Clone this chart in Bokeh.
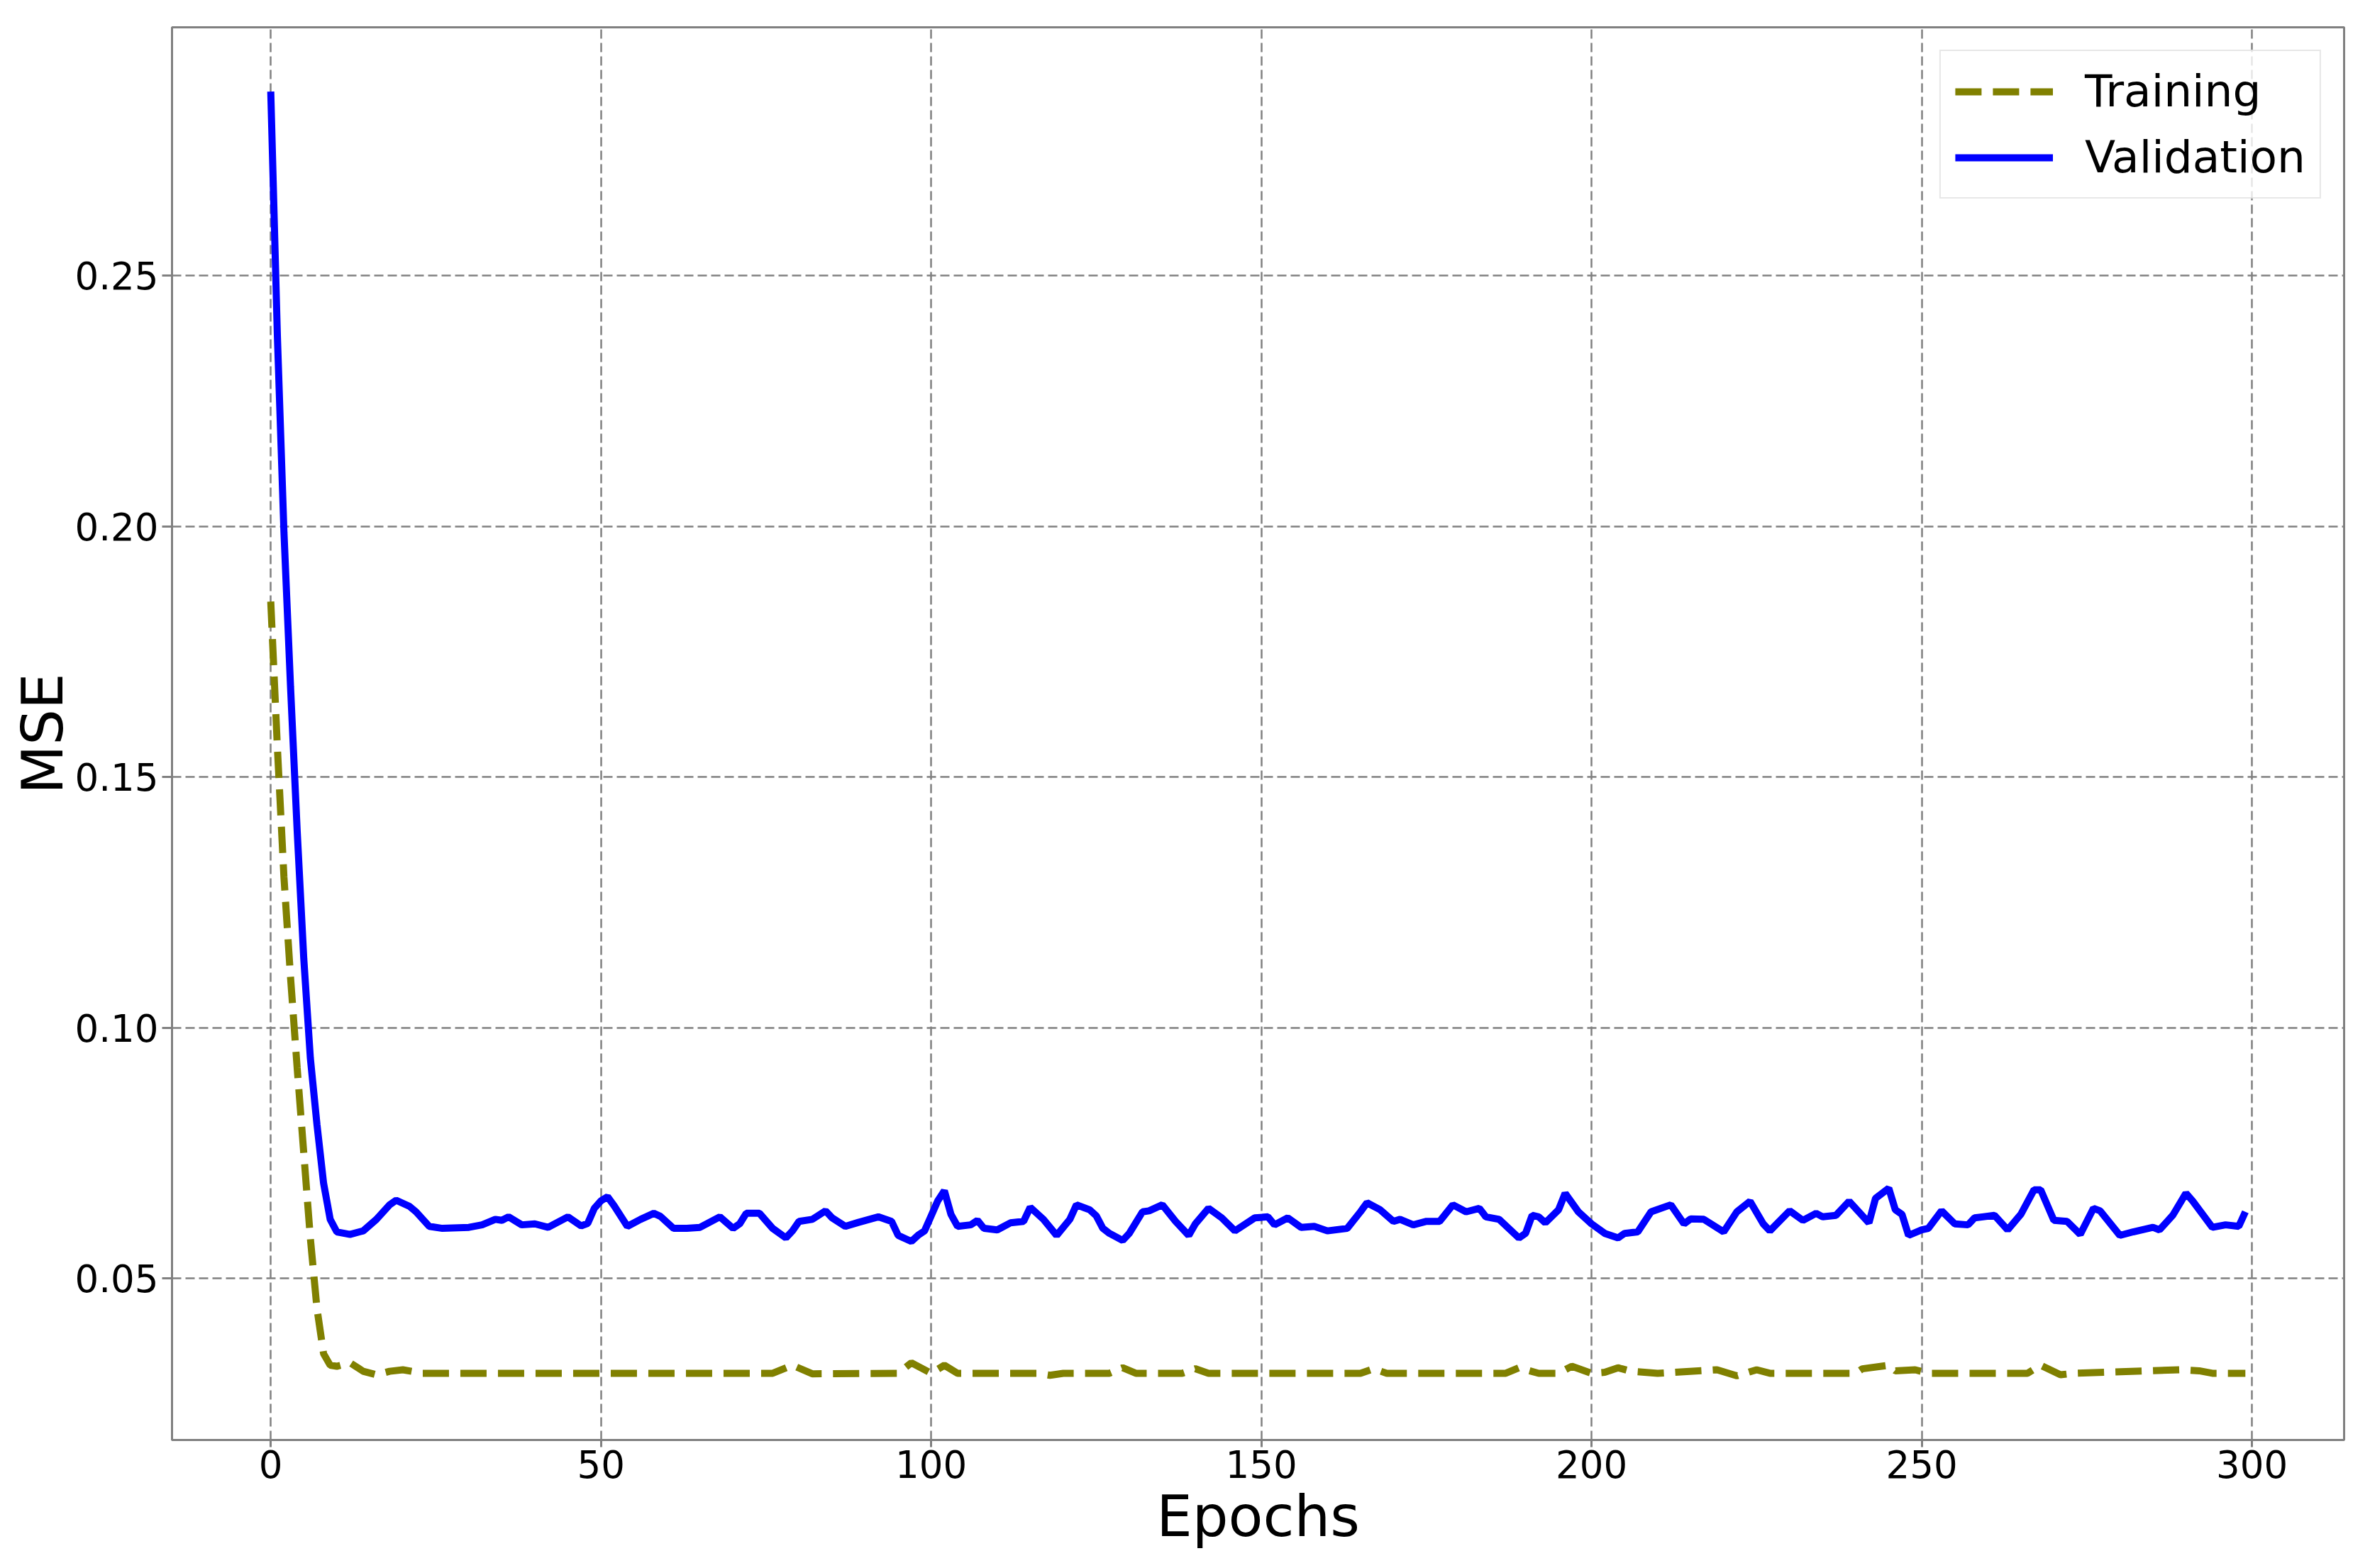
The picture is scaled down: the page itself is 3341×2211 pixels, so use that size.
from bokeh.plotting import figure
from bokeh.models import Range1d, FixedTicker, NumeralTickFormatter, Legend, LegendItem
from bokeh.embed import file_html
from bokeh.resources import INLINE

# ---- data (epoch, MSE) ----
train_epochs = [0, 1, 2, 3, 4, 5, 6, 7, 8, 9, 10, 12, 14, 16, 18, 20, 23, 76, 79, 82,
                95, 97, 100, 102, 104, 116, 118, 120, 127, 129, 131, 138, 140, 142,
                165, 167, 169, 187, 189, 192, 195, 197, 200, 202, 204, 206, 210,
                219, 222, 225, 227, 240, 241, 245, 246, 249, 251, 266, 268, 271, 273,
                289, 292, 294, 299]
train_mse = [0.185, 0.156, 0.130, 0.110, 0.092, 0.075, 0.058, 0.044, 0.035, 0.0327, 0.0325,
             0.0332, 0.0315, 0.0308, 0.0315, 0.0318, 0.0311, 0.0311, 0.0327, 0.0310,
             0.0311, 0.0332, 0.0311, 0.0327, 0.0311, 0.0311, 0.0307, 0.0311, 0.0311, 0.0322,
             0.0311, 0.0311, 0.0320, 0.0311, 0.0311, 0.0320, 0.0311, 0.0311, 0.0322, 0.0311,
             0.0311, 0.0325, 0.0311, 0.0313, 0.0322, 0.0315, 0.0311, 0.0318, 0.0306, 0.0318,
             0.0311, 0.0311, 0.0320, 0.0327, 0.0316, 0.0318, 0.0311, 0.0311, 0.0327, 0.0308,
             0.0311, 0.0318, 0.0316, 0.0311, 0.0311]

val_epochs = [0, 1, 2, 3, 4, 5, 6, 7, 8, 9, 10, 12, 14, 16, 18, 19, 21, 22, 24, 26,
              30, 32, 34, 35, 36, 38, 40, 42, 45, 47, 48, 49, 50, 51, 52, 54, 56, 58, 59,
              61, 63, 65, 68, 70, 71, 72, 74, 76, 78, 79, 80, 82, 84, 85, 87, 89, 92, 94,
              95, 97, 98, 99, 100, 101, 102, 103, 104, 106, 107, 108, 110, 112, 114, 115,
              117, 119, 121, 122, 124, 125, 126, 127, 129, 130, 132, 133, 135, 137, 139,
              140, 142, 144, 146, 149, 151, 152, 154, 156, 158, 160, 163, 165, 166, 168,
              170, 171, 173, 175, 177, 179, 181, 183, 184, 186, 189, 190, 191, 192, 193,
              195, 196, 198, 200, 202, 204, 205, 207, 209, 212, 214, 215, 217, 220, 222,
              224, 226, 227, 230, 232, 234, 235, 237, 239, 242, 243, 245, 246, 247, 248,
              250, 251, 253, 255, 257, 258, 261, 263, 265, 267, 268, 270, 272, 274, 276,
              277, 280, 282, 285, 286, 288, 290, 291, 294, 296, 298, 299]
val_mse = [0.2867, 0.2381, 0.1988, 0.1679, 0.1393, 0.1138, 0.0939, 0.0807, 0.0690, 0.0618,
           0.0593, 0.0588, 0.0595, 0.0618, 0.0647, 0.0656, 0.0644, 0.0633, 0.0604, 0.0600,
           0.0602, 0.0607, 0.0618, 0.0616, 0.0623, 0.0607, 0.0609, 0.0602, 0.0623, 0.0605,
           0.0610, 0.0640, 0.0655, 0.0663, 0.0645, 0.0604, 0.0618, 0.0630, 0.0624,
           0.0600, 0.0600, 0.0602, 0.0623, 0.0600, 0.0609, 0.0630, 0.0630, 0.0600, 0.0581,
           0.0595, 0.0614, 0.0618, 0.0635, 0.0621, 0.0604, 0.0612, 0.0623, 0.0614,
           0.0586, 0.0574, 0.0586, 0.0595, 0.0625, 0.0655, 0.0675, 0.0628, 0.0604, 0.0607,
           0.0616, 0.0600, 0.0597, 0.0611, 0.0614, 0.0642,
           0.0618, 0.0586, 0.0618, 0.0647, 0.0637, 0.0625, 0.0600, 0.0590, 0.0576, 0.0590,
           0.0633, 0.0635, 0.0647, 0.0614, 0.0586,
           0.0609, 0.0640, 0.0621, 0.0595, 0.0621, 0.0623, 0.0607, 0.0621, 0.0602, 0.0604,
           0.0595, 0.0600, 0.0633, 0.0651, 0.0637,
           0.0614, 0.0618, 0.0607, 0.0614, 0.0614, 0.0647, 0.0633, 0.0640, 0.0623, 0.0618,
           0.0581, 0.0590, 0.0626, 0.0623, 0.0611,
           0.0637, 0.0670, 0.0633, 0.0609, 0.0590, 0.0581, 0.0590, 0.0593, 0.0633, 0.0647,
           0.0609, 0.0619, 0.0618, 0.0593, 0.0633,
           0.0654, 0.0609, 0.0595, 0.0635, 0.0616, 0.0630, 0.0623, 0.0626, 0.0654, 0.0611,
           0.0660, 0.0680, 0.0637, 0.0628, 0.0586,
           0.0597, 0.0600, 0.0635, 0.0609, 0.0607, 0.0621, 0.0626, 0.0597, 0.0628, 0.0677,
           0.0677, 0.0616, 0.0614, 0.0588, 0.0640,
           0.0635, 0.0586, 0.0593, 0.0602, 0.0597, 0.0626, 0.0670, 0.0655, 0.0602, 0.0607,
           0.0604, 0.0633]

x_ticks = [0, 50, 100, 150, 200, 250, 300]
y_ticks = [0.05, 0.10, 0.15, 0.20, 0.25]
series_labels = ["Training", "Validation"]
x_label = "Epochs"
y_label = "MSE"

FONT = "DejaVu Sans"
GRAY = "#808080"

p = figure(width=3325, height=2199, output_backend="svg", toolbar_location=None,
           x_range=Range1d(-14.95, 313.95), y_range=Range1d(0.0178, 0.2995),
           min_border_left=242, min_border_right=21, min_border_top=38, min_border_bottom=169)
p.background_fill_color = "white"
p.border_fill_color = "white"
p.outline_line_color = GRAY
p.outline_line_width = 3

r_train = p.line(train_epochs, train_mse, line_color="#808000", line_width=10,
                 line_dash="37 16")
r_val = p.line(val_epochs, val_mse, line_color="#0000ff", line_width=10)

# axes
p.xaxis.ticker = FixedTicker(ticks=x_ticks)
p.yaxis.ticker = FixedTicker(ticks=y_ticks)
p.yaxis.formatter = NumeralTickFormatter(format="0.00")
p.xaxis.axis_label = x_label
p.yaxis.axis_label = y_label
for ax in (p.xaxis, p.yaxis):
    ax.axis_label_text_font = FONT
    ax.axis_label_text_font_size = "80px"
    ax.axis_label_text_font_style = "normal"
    ax.axis_label_text_color = "black"
    ax.major_label_text_font = FONT
    ax.major_label_text_font_size = "53px"
    ax.major_label_text_color = "black"
    ax.axis_line_color = GRAY
    ax.axis_line_width = 3
    ax.major_tick_line_color = GRAY
    ax.major_tick_line_width = 3
    ax.major_tick_in = 0
    ax.minor_tick_line_color = None
p.xaxis.major_tick_out = 10
p.xaxis.major_label_standoff = 4
p.xaxis.axis_label_standoff = 5
p.yaxis.major_tick_out = 14
p.yaxis.major_label_standoff = 5
p.yaxis.axis_label_standoff = -5

# grid
for g in (p.xgrid, p.ygrid):
    g.grid_line_color = GRAY
    g.grid_line_width = 2.5
    g.grid_line_dash = "13 6"
p.xgrid.ticker = FixedTicker(ticks=x_ticks)
p.ygrid.ticker = FixedTicker(ticks=y_ticks)

legend = Legend(items=[LegendItem(label=series_labels[0], renderers=[r_train]),
                       LegendItem(label=series_labels[1], renderers=[r_val])],
                location="top_right")
legend.label_text_font = FONT
legend.label_text_font_size = "63px"
legend.label_text_color = "black"
legend.glyph_width = 138
legend.glyph_height = 72
legend.label_height = 72
legend.label_standoff = 45
legend.spacing = 20
legend.padding = 20
legend.margin = 32
legend.border_line_color = "#d0d0d0"
legend.border_line_width = 2
legend.background_fill_color = "white"
legend.background_fill_alpha = 0.8
p.add_layout(legend, "center")

open("out.html", "w").write(file_html(p, INLINE))
